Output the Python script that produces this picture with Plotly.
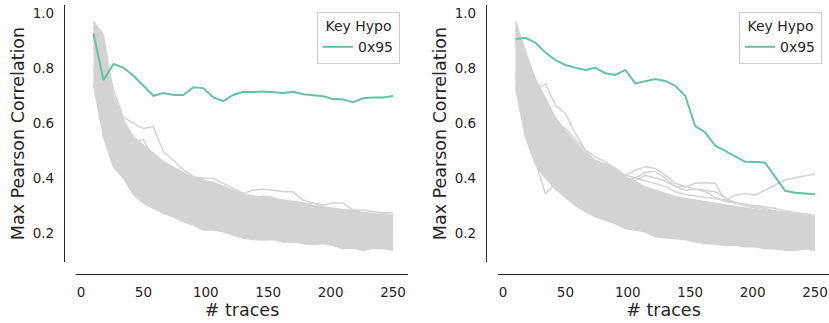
import plotly.graph_objects as go

# number of traces used for each correlation estimate
traces = list(range(10, 251, 8))

# ---------------- left panel ----------------
left_key = [0.926, 0.756, 0.815, 0.801, 0.772, 0.735, 0.699, 0.709, 0.702, 0.702,
            0.730, 0.727, 0.693, 0.680, 0.702, 0.714, 0.713, 0.715, 0.711, 0.709,
            0.714, 0.705, 0.701, 0.697, 0.687, 0.686, 0.676, 0.690, 0.693, 0.693, 0.698]
left_wrong_low = [0.74, 0.55, 0.44, 0.40, 0.34, 0.31, 0.29, 0.272, 0.259, 0.241,
                  0.229, 0.211, 0.211, 0.205, 0.193, 0.181, 0.177, 0.175, 0.177, 0.168,
                  0.168, 0.162, 0.159, 0.162, 0.156, 0.144, 0.146, 0.138, 0.144, 0.144, 0.138]
left_wrong_high = [0.97, 0.92, 0.70, 0.61, 0.55, 0.52, 0.49, 0.46, 0.44, 0.42,
                   0.40, 0.39, 0.385, 0.37, 0.355, 0.34, 0.335, 0.33, 0.325, 0.32,
                   0.315, 0.31, 0.30, 0.295, 0.29, 0.285, 0.28, 0.275, 0.27, 0.268, 0.265]
left_wrong_lines = [
    [0.95, 0.88, 0.72, 0.62, 0.60, 0.58, 0.587, 0.496, 0.465, 0.43,
     0.405, 0.40, 0.399, 0.381, 0.362, 0.344, 0.357, 0.359, 0.356, 0.35,
     0.35, 0.32, 0.309, 0.302, 0.31, 0.309, 0.284, 0.284, 0.278, 0.274, 0.274],
    [0.93, 0.80, 0.66, 0.58, 0.53, 0.54, 0.47, 0.45, 0.42, 0.40,
     0.40, 0.395, 0.37, 0.36, 0.35, 0.33, 0.32, 0.335, 0.33, 0.31,
     0.30, 0.30, 0.31, 0.295, 0.285, 0.28, 0.285, 0.27, 0.265, 0.27, 0.26],
    [0.80, 0.60, 0.47, 0.43, 0.37, 0.35, 0.31, 0.30, 0.28, 0.265,
     0.25, 0.24, 0.225, 0.22, 0.21, 0.20, 0.195, 0.19, 0.19, 0.18,
     0.178, 0.17, 0.172, 0.168, 0.165, 0.16, 0.158, 0.15, 0.155, 0.152, 0.15],
    [0.88, 0.72, 0.57, 0.50, 0.46, 0.41, 0.40, 0.37, 0.35, 0.33,
     0.34, 0.31, 0.30, 0.29, 0.28, 0.285, 0.27, 0.26, 0.255, 0.25,
     0.245, 0.24, 0.235, 0.23, 0.232, 0.225, 0.22, 0.215, 0.21, 0.212, 0.205],
]

# ---------------- right panel ----------------
right_key = [0.905, 0.910, 0.892, 0.856, 0.829, 0.811, 0.801, 0.793, 0.801, 0.781,
             0.775, 0.793, 0.744, 0.753, 0.760, 0.753, 0.735, 0.699, 0.589, 0.566,
             0.518, 0.499, 0.478, 0.459, 0.458, 0.456, 0.405, 0.354, 0.347, 0.345, 0.341]
right_wrong_low = [0.73, 0.55, 0.45, 0.40, 0.36, 0.33, 0.30, 0.278, 0.259, 0.247,
                   0.235, 0.217, 0.211, 0.205, 0.187, 0.184, 0.181, 0.177, 0.168, 0.162,
                   0.16, 0.156, 0.156, 0.15, 0.15, 0.144, 0.142, 0.138, 0.138, 0.142, 0.138]
right_wrong_high = [0.97, 0.86, 0.76, 0.69, 0.62, 0.57, 0.53, 0.49, 0.465, 0.45,
                    0.435, 0.405, 0.387, 0.368, 0.356, 0.344, 0.332, 0.326, 0.32, 0.314,
                    0.308, 0.302, 0.296, 0.29, 0.285, 0.28, 0.275, 0.27, 0.265, 0.26, 0.258]
right_wrong_lines = [
    [0.95, 0.83, 0.72, 0.742, 0.665, 0.635, 0.562, 0.502, 0.477, 0.459,
     0.435, 0.411, 0.40, 0.39, 0.38, 0.37, 0.35, 0.34, 0.335, 0.33,
     0.325, 0.32, 0.338, 0.344, 0.338, 0.356, 0.375, 0.393, 0.401, 0.407, 0.415],
    [0.94, 0.80, 0.70, 0.64, 0.60, 0.58, 0.54, 0.50, 0.46, 0.45,
     0.43, 0.411, 0.429, 0.441, 0.435, 0.411, 0.381, 0.37, 0.36, 0.35,
     0.33, 0.315, 0.31, 0.30, 0.295, 0.29, 0.28, 0.275, 0.27, 0.265, 0.26],
    [0.92, 0.78, 0.68, 0.62, 0.58, 0.55, 0.51, 0.48, 0.46, 0.44,
     0.42, 0.40, 0.39, 0.41, 0.40, 0.39, 0.37, 0.368, 0.381, 0.383,
     0.381, 0.32, 0.31, 0.305, 0.30, 0.295, 0.29, 0.28, 0.275, 0.27, 0.265],
    [0.90, 0.75, 0.62, 0.58, 0.55, 0.52, 0.49, 0.46, 0.44, 0.42,
     0.41, 0.39, 0.40, 0.42, 0.425, 0.40, 0.37, 0.355, 0.36, 0.355,
     0.35, 0.33, 0.31, 0.30, 0.29, 0.285, 0.28, 0.27, 0.265, 0.26, 0.255],
    [0.78, 0.58, 0.46, 0.344, 0.38, 0.34, 0.31, 0.29, 0.27, 0.255,
     0.24, 0.225, 0.22, 0.21, 0.195, 0.19, 0.19, 0.18, 0.175, 0.17,
     0.165, 0.162, 0.16, 0.155, 0.155, 0.15, 0.148, 0.145, 0.142, 0.145, 0.14],
]

GRAY = "#d3d3d3"
GREEN = "#66c2a5"
INK = "#262626"
W, H = 829, 323

fig = go.Figure()


def add_panel(xa, ya, key, low, high, lines, legend):
    # band of wrong key hypotheses
    fig.add_trace(go.Scatter(x=traces, y=low, mode="lines", xaxis=xa, yaxis=ya,
                             line=dict(color=GRAY, width=1.5), showlegend=False,
                             hoverinfo="skip"))
    fig.add_trace(go.Scatter(x=traces, y=high, mode="lines", xaxis=xa, yaxis=ya,
                             fill="tonexty", fillcolor=GRAY,
                             line=dict(color=GRAY, width=1.5), showlegend=False,
                             hoverinfo="skip"))
    for ln in lines:
        fig.add_trace(go.Scatter(x=traces, y=ln, mode="lines", xaxis=xa, yaxis=ya,
                                 line=dict(color=GRAY, width=1.5), showlegend=False,
                                 hoverinfo="skip"))
    # correct key hypothesis
    fig.add_trace(go.Scatter(x=traces, y=key, mode="lines", xaxis=xa, yaxis=ya,
                             name="0x95", line=dict(color=GREEN, width=2),
                             legend=legend))


add_panel("x", "y", left_key, left_wrong_low, left_wrong_high, left_wrong_lines, "legend")
add_panel("x2", "y2", right_key, right_wrong_low, right_wrong_high, right_wrong_lines, "legend2")

font = dict(family="DejaVu Sans", color=INK)
ydom = [1 - 262 / H, 1 - 5 / H]
xpos = 1 - 274 / H

common_x = dict(range=[-4, 262], tickvals=[0, 50, 100, 150, 200, 250],
                showline=True, linecolor=INK, linewidth=1.2, showgrid=False,
                zeroline=False, ticks="outside", ticklen=6, tickcolor="rgba(0,0,0,0)",
                tickfont=dict(size=13.5, **font), anchor="free", position=xpos,
                title=dict(text="# traces", font=dict(size=17.5, **font), standoff=3),
                automargin=False)
common_y = dict(domain=ydom, range=[0.095, 1.029], tickvals=[0.2, 0.4, 0.6, 0.8, 1.0],
                ticktext=["0.2", "0.4", "0.6", "0.8", "1.0"],
                showline=True, linecolor=INK, linewidth=1.2, showgrid=False,
                zeroline=False, ticks="outside", ticklen=7, tickcolor="rgba(0,0,0,0)",
                tickfont=dict(size=13.5, **font), anchor="free",
                title=dict(text="Max Pearson Correlation", font=dict(size=17.5, **font), standoff=2),
                automargin=False)

legend_common = dict(y=1 - 12 / H, xanchor="right", yanchor="top",
                     bordercolor="#cccccc", borderwidth=1, bgcolor="white",
                     font=dict(size=14, **font), itemwidth=30,
                     title=dict(text="Key Hypo", side="top center", font=dict(size=14, **font)))

fig.update_layout(
    width=W, height=H,
    margin=dict(l=0, r=0, t=0, b=0),
    plot_bgcolor="white", paper_bgcolor="white",
    xaxis=dict(domain=[76 / W, 408 / W], **common_x),
    yaxis=dict(position=64 / W, **common_y),
    xaxis2=dict(domain=[498 / W, 1.0], **{**common_x, "range": [-4, 261.2]}),
    yaxis2=dict(position=486 / W, **common_y),
    legend=dict(x=400 / W, **legend_common),
    legend2=dict(x=822 / W, **legend_common),
)

fig.write_html("out.html")
